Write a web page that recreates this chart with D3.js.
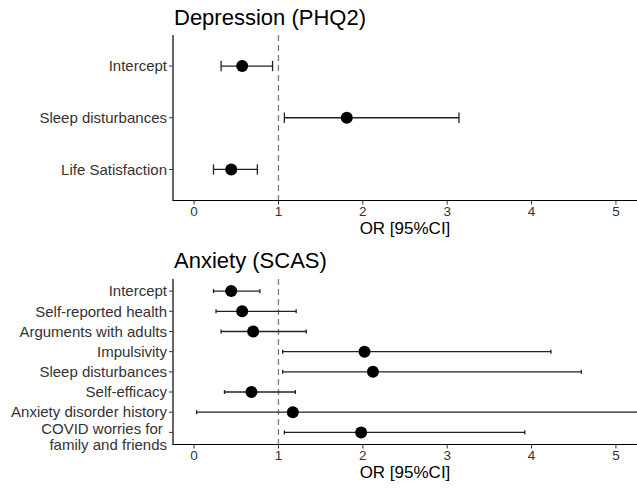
<!DOCTYPE html>
<html>
<head>
<meta charset="utf-8">
<script src="https://cdn.jsdelivr.net/npm/d3@7"></script>
<style>
  body { margin: 0; background: #fff; }
  text { font-family: "Liberation Sans", Arial, sans-serif; }
</style>
</head>
<body>
<div id="chart"></div>
<script>
// odds ratios
var depLabels = ["Intercept", "Sleep disturbances", "Life Satisfaction"];
var depOR = [0.57, 1.81, 0.44];
var depLo = [0.32, 1.07, 0.23];
var depHi = [0.93, 3.14, 0.75];

var anxLabels = ["Intercept", "Self-reported health", "Arguments with adults", "Impulsivity",
                 "Sleep disturbances", "Self-efficacy", "Anxiety disorder history",
                 "COVID worries for \nfamily and friends"];
var anxOR = [0.44, 0.57, 0.70, 2.02, 2.12, 0.68, 1.17, 1.98];
var anxLo = [0.23, 0.26, 0.32, 1.05, 1.05, 0.36, 0.03, 1.07];
var anxHi = [0.78, 1.21, 1.33, 4.23, 4.59, 1.20, 6.80, 3.92];

var xTicks = [0, 1, 2, 3, 4, 5];

var width = 637, height = 488;
var left = 173, right = 637;

var svg = d3.select("#chart").append("svg")
    .attr("width", width)
    .attr("height", height);

var x = d3.scaleLinear().domain([-0.25, 5.25]).range([left, right]);

svg.append("defs").append("clipPath").attr("id", "clip")
  .append("rect").attr("x", left).attr("y", 0).attr("width", right - left).attr("height", height);

function panel(title, labels, or, lo, hi, top, bottom, titleY) {
    var rows = labels.map(function(l, i) { return {label: l, or: or[i], lo: lo[i], hi: hi[i]}; });
    // ggplot style discrete expansion of 0.6 on each side
    var n = labels.length;
    var y = d3.scaleLinear().domain([-0.6, n - 1 + 0.6]).range([top, bottom]);
    var step = y(1) - y(0);

    var g = svg.append("g");

    g.append("text")
        .attr("x", left + 1)
        .attr("y", titleY)
        .attr("font-size", 22)
        .attr("fill", "#000")
        .text(title);

    // reference line at OR = 1
    g.append("line")
        .attr("x1", x(1)).attr("x2", x(1))
        .attr("y1", top).attr("y2", bottom)
        .attr("stroke", "#7a7a7a")
        .attr("stroke-width", 1.3)
        .attr("stroke-dasharray", "6,4");

    var marks = g.append("g").attr("clip-path", "url(#clip)");
    var cap = step * 0.1;

    var row = marks.selectAll(".row").data(rows).enter().append("g")
        .attr("class", "row");

    row.append("line")
        .attr("x1", function(d) { return x(d.lo); })
        .attr("x2", function(d) { return x(d.hi); })
        .attr("y1", function(d, i) { return y(i); })
        .attr("y2", function(d, i) { return y(i); })
        .attr("stroke", "#222").attr("stroke-width", 1.3);

    ["lo", "hi"].forEach(function(k) {
        row.append("line")
            .attr("x1", function(d) { return x(d[k]); })
            .attr("x2", function(d) { return x(d[k]); })
            .attr("y1", function(d, i) { return y(i) - cap; })
            .attr("y2", function(d, i) { return y(i) + cap; })
            .attr("stroke", "#222").attr("stroke-width", 1.3);
    });

    row.append("circle")
        .attr("cx", function(d) { return x(d.or); })
        .attr("cy", function(d, i) { return y(i); })
        .attr("r", 6)
        .attr("fill", "#000");

    // y axis
    g.append("line")
        .attr("x1", left).attr("x2", left)
        .attr("y1", top).attr("y2", bottom + 0.5)
        .attr("stroke", "#000").attr("stroke-width", 1.2);

    rows.forEach(function(d, i) {
        g.append("line")
            .attr("x1", left - 4).attr("x2", left)
            .attr("y1", y(i)).attr("y2", y(i))
            .attr("stroke", "#333").attr("stroke-width", 1);
        var parts = d.label.split("\n");
        var t = g.append("text")
            .attr("x", left - 6)
            .attr("text-anchor", "end")
            .attr("font-size", 15)
            .attr("fill", "#333");
        parts.forEach(function(p, j) {
            // two-line label sits a little low, as in the original
            var off = parts.length > 1 ? (j === 0 ? -3.7 : 12.3) : 0;
            t.append("tspan")
                .attr("x", left - 6)
                .attr("y", y(i) + off)
                .attr("dy", "0.35em")
                .attr("xml:space", "preserve")
                .text(p);
        });
    });

    // x axis
    g.append("line")
        .attr("x1", left).attr("x2", right)
        .attr("y1", bottom).attr("y2", bottom)
        .attr("stroke", "#000").attr("stroke-width", 1.2);

    xTicks.forEach(function(v) {
        g.append("line")
            .attr("x1", x(v)).attr("x2", x(v))
            .attr("y1", bottom).attr("y2", bottom + 4)
            .attr("stroke", "#333").attr("stroke-width", 1);
        g.append("text")
            .attr("x", x(v))
            .attr("y", bottom + 10.5)
            .attr("dy", "0.35em")
            .attr("text-anchor", "middle")
            .attr("font-size", 13.5)
            .attr("fill", "#333")
            .text(v);
    });

    g.append("text")
        .attr("x", (left + right) / 2)
        .attr("y", bottom + 33.5)
        .attr("text-anchor", "middle")
        .attr("font-size", 17)
        .attr("fill", "#000")
        .text("OR [95%CI]");
}

panel("Depression (PHQ2)", depLabels, depOR, depLo, depHi, 35, 200.5, 25);
panel("Anxiety (SCAS)", anxLabels, anxOR, anxLo, anxHi, 279, 444.5, 268);
</script>
</body>
</html>
